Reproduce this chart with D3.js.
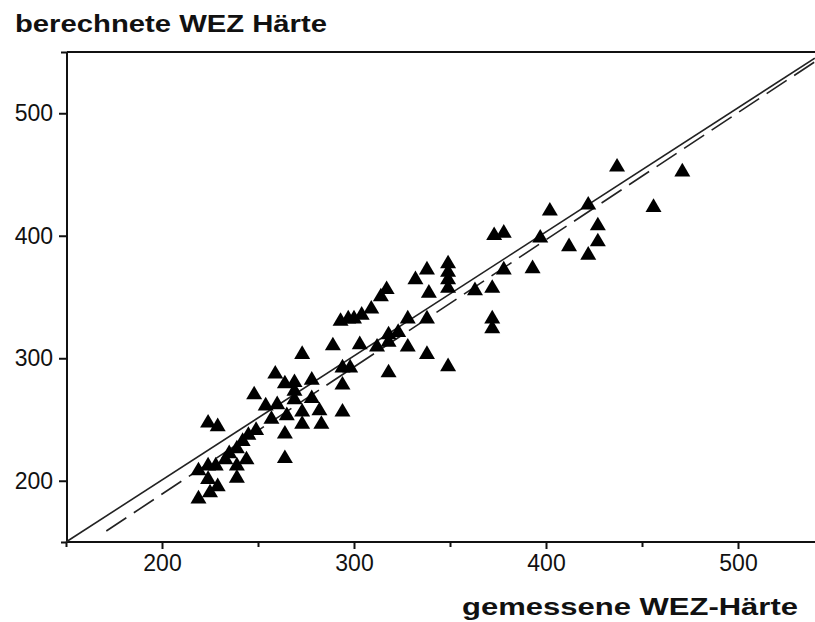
<!DOCTYPE html>
<html><head><meta charset="utf-8">
<script src="https://cdn.jsdelivr.net/npm/d3@7"></script>
<style>body{margin:0;background:#fff}svg{display:block}</style>
</head><body><svg id="c" width="815" height="622"></svg>
<script>
// measured HAZ hardness (x) vs calculated HAZ hardness (y)
const measured = [219,225,229,224,239,219,224,228,233,235,239,242,245,239,244,264,224,229,249,248,
  254,260,259,264,269,278,269,269,278,273,257,264,265,273,282,273,283,294,294,294,
  298,289,303,318,312,318,318,323,328,338,349,328,338,293,297,300,304,309,314,317,
  332,338,349,349,349,339,349,363,372,372,372,378,373,378,393,397,402,412,422,427,
  427,422,437,456,471];
const calculated = [187,192,197,203,204,210,214,214,219,224,228,234,239,214,219,220,249,246,243,272,
  263,264,289,281,282,284,275,268,269,305,252,240,255,258,259,248,248,258,280,294,
  294,312,313,290,311,315,321,323,311,305,295,334,334,332,334,334,337,342,352,358,
  366,374,379,372,366,355,359,357,359,334,326,374,402,404,375,400,422,393,386,397,
  410,427,458,425,454];
const xTickValues = [200,300,400,500];
const xMinorTicks = [150,250,350,450];
const yTickValues = [200,300,400,500];
const yMinorTicks = [150,550];
const identityLine = [[150,150],[540,545]];
const regressionLine = [[171,159],[540,542]];
const yTitle = "berechnete WEZ Härte";
const xTitle = "gemessene WEZ-Härte";

const svg = d3.select("#c");
const x = d3.scaleLinear().domain([150,550]).range([66,834]);
const y = d3.scaleLinear().domain([150,550]).range([542,52]);
const font = "Arial, 'Liberation Sans', sans-serif";
const ink = "#111";
const x0 = 67;

// frame
const frame = svg.append("g").attr("stroke", ink).attr("stroke-width", 2).attr("fill","none");
frame.append("line").attr("x1", x0-1).attr("x2", 815).attr("y1", y(150)).attr("y2", y(150));
frame.append("line").attr("x1", x0).attr("x2", x0).attr("y1", y(550)).attr("y2", y(150));
frame.append("line").attr("x1", x0).attr("x2", 815).attr("y1", y(550)).attr("y2", y(550));

// x axis
const xAxis = svg.append("g").attr("transform", `translate(0,${y(150)})`)
  .call(d3.axisBottom(x).tickValues(xTickValues).tickSize(7).tickPadding(6).tickFormat(d3.format("d")));
xAxis.select(".domain").remove();
xAxis.selectAll("line").attr("stroke", ink).attr("stroke-width", 2);
xAxis.selectAll("text").attr("font-family", font).attr("font-size", 23).attr("fill", ink);
const xMinor = svg.append("g").attr("transform", `translate(0,${y(150)})`)
  .call(d3.axisBottom(x).tickValues(xMinorTicks).tickSize(5).tickFormat(""));
xMinor.select(".domain").remove();
xMinor.selectAll("line").attr("stroke", ink).attr("stroke-width", 2);

// y axis
const yAxis = svg.append("g").attr("transform", `translate(${x0},0)`)
  .call(d3.axisLeft(y).tickValues(yTickValues).tickSize(8).tickPadding(6).tickFormat(d3.format("d")));
yAxis.select(".domain").remove();
yAxis.selectAll("line").attr("stroke", ink).attr("stroke-width", 2);
yAxis.selectAll("text").attr("font-family", font).attr("font-size", 23).attr("fill", ink);
const yMinor = svg.append("g").attr("transform", `translate(${x0},0)`)
  .call(d3.axisLeft(y).tickValues(yMinorTicks).tickSize(6).tickFormat(""));
yMinor.select(".domain").remove();
yMinor.selectAll("line").attr("stroke", ink).attr("stroke-width", 2);

// lines
const lineGen = d3.line().x(d => x(d[0])).y(d => y(d[1]));
svg.append("path").attr("d", lineGen(identityLine)).attr("fill","none")
  .attr("stroke", "#222").attr("stroke-width", 1.6);
svg.append("path").attr("d", lineGen(regressionLine)).attr("fill","none")
  .attr("stroke", "#222").attr("stroke-width", 1.6).attr("stroke-dasharray", "24,9");

// points
const tri = { draw(ctx, size) { const w = 8, h = 6.8; ctx.moveTo(0,-h); ctx.lineTo(w,h); ctx.lineTo(-w,h); ctx.closePath(); } };
const sym = d3.symbol().type(tri).size(100);
svg.append("g").selectAll("path").data(measured.map((m,i)=>[m, calculated[i]])).join("path")
  .attr("d", sym).attr("transform", d => `translate(${x(d[0])},${y(d[1])})`).attr("fill", "#000");

// titles
svg.append("text").attr("x", 15).attr("y", 32).text(yTitle)
  .attr("font-family", font).attr("font-size", 23).attr("font-weight", "bold").attr("fill", ink)
  .attr("textLength", 312).attr("lengthAdjust", "spacingAndGlyphs");
svg.append("text").attr("x", 462).attr("y", 615).text(xTitle)
  .attr("font-family", font).attr("font-size", 23).attr("font-weight", "bold").attr("fill", ink)
  .attr("textLength", 336).attr("lengthAdjust", "spacingAndGlyphs");
</script></body></html>
